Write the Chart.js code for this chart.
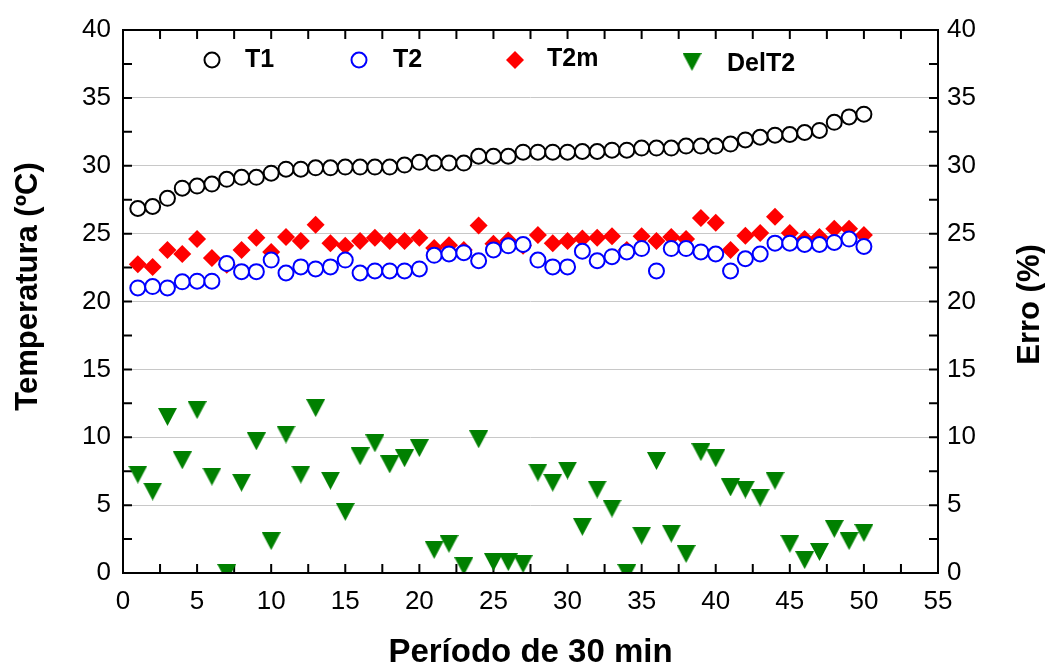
<!DOCTYPE html>
<html>
<head>
<meta charset="utf-8">
<title>Temperatura e erro</title>
<script src="https://cdn.jsdelivr.net/npm/chart.js@4.4.0/dist/chart.umd.min.js"></script>
<style>
html, body { margin: 0; padding: 0; background: #fff; }
</style>
</head>
<body>
<canvas id="chart" width="1045" height="669"></canvas>
<script>
// Chart data
const periods = [1, 2, 3, 4, 5, 6, 7, 8, 9, 10, 11, 12, 13, 14, 15, 16, 17, 18, 19, 20,
    21, 22, 23, 24, 25, 26, 27, 28, 29, 30, 31, 32, 33, 34, 35, 36, 37, 38, 39, 40,
    41, 42, 43, 44, 45, 46, 47, 48, 49, 50];

const t1 = [26.85, 27.0, 27.6, 28.35, 28.5, 28.65, 29.0, 29.15, 29.15, 29.45,
    29.75, 29.75, 29.85, 29.85, 29.9, 29.9, 29.9, 29.9, 30.05, 30.25,
    30.2, 30.2, 30.2, 30.7, 30.7, 30.7, 31.0, 31.0, 31.0, 31.0,
    31.05, 31.05, 31.15, 31.15, 31.3, 31.3, 31.3, 31.45, 31.45, 31.45,
    31.6, 31.9, 32.1, 32.25, 32.3, 32.45, 32.6, 33.2, 33.6, 33.8];

const t2 = [21.0, 21.1, 21.0, 21.45, 21.5, 21.5, 22.8, 22.2, 22.2, 23.05,
    22.1, 22.55, 22.4, 22.55, 23.05, 22.1, 22.25, 22.25, 22.25, 22.4,
    23.4, 23.5, 23.6, 23.0, 23.8, 24.1, 24.2, 23.05, 22.55, 22.55,
    23.7, 23.0, 23.3, 23.65, 23.9, 22.25, 23.9, 23.9, 23.65, 23.5,
    22.25, 23.15, 23.5, 24.3, 24.3, 24.2, 24.2, 24.35, 24.6, 24.05];

const t2m = [22.75, 22.55, 23.8, 23.5, 24.6, 23.2, 22.7, 23.8, 24.7, 23.65,
    24.75, 24.45, 25.65, 24.3, 24.1, 24.45, 24.7, 24.45, 24.45, 24.7,
    23.95, 24.15, 23.8, 25.6, 24.25, 24.5, 24.1, 24.9, 24.3, 24.45,
    24.65, 24.7, 24.8, 23.8, 24.8, 24.45, 24.75, 24.6, 26.15, 25.8,
    23.8, 24.85, 25.05, 26.25, 25.05, 24.6, 24.75, 25.35, 25.35, 24.9];

const delT2 = [7.25, 6.0, 11.5, 8.3, 12.0, 7.1, 0.0, 6.65, 9.7, 2.35,
    10.2, 7.25, 12.15, 6.8, 4.5, 8.6, 9.55, 8.0, 8.45, 9.2,
    1.7, 2.15, 0.5, 9.85, 0.8, 0.8, 0.65, 7.4, 6.65, 7.55,
    3.4, 6.15, 4.75, 0.0, 2.75, 8.25, 2.9, 1.4, 8.9, 8.45,
    6.3, 6.15, 5.55, 6.8, 2.15, 0.95, 1.55, 3.25, 2.35, 2.95];

const xTickStep = 5;
const yTickStep = 5;
const minorStep = 2.5;

const FONT = "'Liberation Sans', Arial, sans-serif";

// downward triangle marker (centred on its box, like the original)
function makeTriangle(w, h, color) {
    const c = document.createElement('canvas');
    c.width = w;
    c.height = h;
    const g = c.getContext('2d');
    g.fillStyle = color;
    g.beginPath();
    g.moveTo(0, 0);
    g.lineTo(w, 0);
    g.lineTo(w / 2, h);
    g.closePath();
    g.fill();
    return c;
}
const triangle = makeTriangle(19, 18, '#008000');

function pts(values) {
    return periods.map((p, i) => ({x: p, y: values[i]}));
}

// inward ticks on all four sides
const frameTicks = {
    id: 'frameTicks',
    beforeDatasetsDraw(chart) {
        const {ctx, chartArea: a, scales} = chart;
        const len = 9;
        ctx.save();
        ctx.strokeStyle = '#000';
        ctx.lineWidth = 2;
        ctx.beginPath();
        for (let v = 0; v <= scales.x.max; v += minorStep) {
            const px = scales.x.getPixelForValue(v);
            ctx.moveTo(px, a.bottom);
            ctx.lineTo(px, a.bottom - len);
            ctx.moveTo(px, a.top);
            ctx.lineTo(px, a.top + len);
        }
        for (let v = 0; v <= scales.y.max; v += minorStep) {
            const py = scales.y.getPixelForValue(v);
            ctx.moveTo(a.left, py);
            ctx.lineTo(a.left + len, py);
            ctx.moveTo(a.right, py);
            ctx.lineTo(a.right - len, py);
        }
        ctx.stroke();
        ctx.restore();
    },
    afterDatasetsDraw(chart) {
        const {ctx, chartArea: a} = chart;
        ctx.save();
        ctx.strokeStyle = '#000';
        ctx.lineWidth = 2;
        ctx.strokeRect(a.left, a.top, a.right - a.left, a.bottom - a.top);
        ctx.restore();
    }
};

// y titles (both read bottom to top) and the in-plot legend
const extras = {
    id: 'extras',
    afterDraw(chart) {
        const {ctx, chartArea: a} = chart;
        const midY = (a.top + a.bottom) / 2;
        ctx.save();
        ctx.fillStyle = '#000';
        ctx.font = 'bold 31px ' + FONT;
        ctx.textAlign = 'center';
        ctx.textBaseline = 'middle';
        ctx.translate(28, midY - 15);
        ctx.rotate(-Math.PI / 2);
        ctx.fillText('Temperatura (ºC)', 0, 0);
        ctx.restore();

        ctx.save();
        ctx.fillStyle = '#000';
        ctx.font = 'bold 31px ' + FONT;
        ctx.textAlign = 'center';
        ctx.textBaseline = 'middle';
        ctx.translate(1030, midY + 3);
        ctx.rotate(-Math.PI / 2);
        ctx.fillText('Erro (%)', 0, 0);
        ctx.restore();

        // legend
        ctx.save();
        ctx.lineWidth = 2;
        ctx.strokeStyle = '#000';
        ctx.fillStyle = '#fff';
        ctx.beginPath(); ctx.arc(212, 60, 7.5, 0, Math.PI * 2); ctx.fill(); ctx.stroke();
        ctx.strokeStyle = '#0000ff';
        ctx.beginPath(); ctx.arc(359, 60, 7.5, 0, Math.PI * 2); ctx.fill(); ctx.stroke();
        ctx.fillStyle = '#ff0000';
        ctx.beginPath();
        ctx.moveTo(515 - 9, 60); ctx.lineTo(515, 60 - 9);
        ctx.lineTo(515 + 9, 60); ctx.lineTo(515, 60 + 9);
        ctx.closePath(); ctx.fill();
        ctx.drawImage(triangle, 692 - triangle.width / 2, 62 - triangle.height / 2);

        ctx.fillStyle = '#000';
        ctx.font = 'bold 25px ' + FONT;
        ctx.textAlign = 'left';
        ctx.textBaseline = 'middle';
        ctx.fillText('T1', 245, 60);
        ctx.fillText('T2', 393, 60);
        ctx.fillText('T2m', 547, 59);
        ctx.fillText('DelT2', 727, 64);
        ctx.restore();
    }
};

const tickFont = {family: FONT, size: 26};

new Chart(document.getElementById('chart').getContext('2d'), {
    type: 'scatter',
    data: {
        datasets: [
            {
                label: 'T1', data: pts(t1), yAxisID: 'y',
                pointStyle: 'circle', pointRadius: 7.5, pointBorderWidth: 2,
                borderColor: '#000', backgroundColor: '#fff'
            },
            {
                label: 'T2', data: pts(t2), yAxisID: 'y',
                pointStyle: 'circle', pointRadius: 7.5, pointBorderWidth: 2,
                borderColor: '#0000ff', backgroundColor: '#fff'
            },
            {
                label: 'T2m', data: pts(t2m), yAxisID: 'y',
                pointStyle: 'rectRot', pointRadius: 9, pointBorderWidth: 0,
                borderColor: '#ff0000', backgroundColor: '#ff0000'
            },
            {
                label: 'DelT2', data: pts(delT2), yAxisID: 'y2',
                pointStyle: triangle, pointRadius: 9, pointBorderWidth: 0,
                borderColor: '#008000', backgroundColor: '#008000'
            }
        ]
    },
    options: {
        responsive: false,
        animation: false,
        devicePixelRatio: 1,
        layout: {padding: {top: 30, left: 0, right: 0, bottom: 0}},
        plugins: {legend: {display: false}, tooltip: {enabled: false}},
        scales: {
            x: {
                type: 'linear', position: 'bottom', min: 0, max: 55,
                ticks: {stepSize: xTickStep, padding: 13, color: '#000', font: tickFont, maxRotation: 0},
                grid: {display: false, drawTicks: false},
                border: {display: false},
                title: {
                    display: true, text: 'Período de 30 min', color: '#000', padding: 0,
                    font: {family: FONT, size: 33, weight: 'bold', lineHeight: 1}
                },
                afterFit(s) { s.height = 96; }
            },
            y: {
                position: 'left', min: 0, max: 40,
                ticks: {stepSize: yTickStep, padding: 12, color: '#000', font: tickFont},
                grid: {color: '#c8c8c8', lineWidth: 1, drawTicks: false},
                border: {display: false},
                afterFit(s) { s.width = 123; }
            },
            y2: {
                position: 'right', min: 0, max: 40,
                ticks: {stepSize: yTickStep, padding: 9, color: '#000', font: tickFont},
                grid: {drawOnChartArea: false, drawTicks: false},
                border: {display: false},
                afterFit(s) { s.width = 107; }
            }
        }
    },
    plugins: [frameTicks, extras]
});
</script>
</body>
</html>
